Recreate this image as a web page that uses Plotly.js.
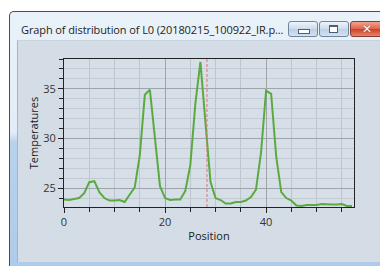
<!DOCTYPE html>
<html><head><meta charset="utf-8">
<script src="https://cdn.plot.ly/plotly-3.0.1.min.js"></script>
<style>
html,body{margin:0;padding:0;width:380px;height:266px;overflow:hidden;background:#fff;font-family:"Open Sans","DejaVu Sans",sans-serif;}
#win{position:absolute;left:9px;top:11px;width:380px;height:260px;border-left:1px solid #4a4f55;border-top:1px solid #4a4f55;border-top-left-radius:5px;
 background:linear-gradient(to bottom,#e9f1f9 0px,#e4edf7 120px,#b9d2ec 130px,#aecbe9 255px);}
#ttl{position:absolute;left:11px;top:10px;font-size:11px;color:#1e1e1e;white-space:nowrap;letter-spacing:-0.1px;}
#client{position:absolute;left:7px;top:28px;width:380px;height:221px;background:#d4dde6;border-left:1px solid #9fb6cc;border-top:1px solid #c7d3df;}
.btn{position:absolute;top:9px;height:14px;border:1px solid #6f86a0;border-radius:3px;background:linear-gradient(#eef4fb,#cddbeb 50%,#bcd0e6 51%,#d3e2f2);}
#bmin{left:278px;width:28px;}
#bmax{left:309px;width:28px;}
#bcls{left:340px;width:40px;border-color:#8a3a30;background:linear-gradient(#efa590,#e0624a 50%,#cc3f25 51%,#e5846a);}
#bmin i{position:absolute;left:9px;top:7px;width:10px;height:3px;background:#fff;border:1px solid #4c5e74;}
#bmax i{position:absolute;left:9px;top:3px;width:7px;height:5px;border:1px solid #4c5e74;border-top-width:2px;background:#fff;}
#bcls i{position:absolute;left:11px;top:0px;color:#fff;font-weight:bold;font-size:12px;line-height:14px;text-shadow:0 0 1px #6a2010;font-style:normal;}
#plot{position:absolute;left:0;top:0;width:380px;height:266px;}
</style></head>
<body>
<div id="win">
 <div id="ttl">Graph of distribution of L0 (20180215_100922_IR.p...</div>
 <div class="btn" id="bmin"><i></i></div>
 <div class="btn" id="bmax"><i></i></div>
 <div class="btn" id="bcls"><i>✕</i></div>
 <div id="client"></div>
</div>
<div id="plot"></div>
<script>
const positions = [0,1,2,3,4,5,6,7,8,9,10,11,12,13,14,15,16,17,18,19,20,21,22,23,24,25,26,27,28,29,30,31,32,33,34,35,36,37,38,39,40,41,42,43,44,45,46,47,48,49,50,51,52,53,54,55,56,57];
const temperatures = [23.86,23.8,23.9,24.0,24.5,25.6,25.7,24.6,24.0,23.75,23.75,23.8,23.6,24.3,25.07,28.3,34.4,34.9,30.0,25.2,24.0,23.8,23.85,23.85,24.7,27.3,33.5,37.7,31.6,25.6,24.0,23.8,23.45,23.45,23.6,23.6,23.75,24.1,24.85,28.6,34.8,34.5,28.2,24.6,24.0,23.75,23.25,23.2,23.3,23.3,23.3,23.4,23.35,23.35,23.35,23.4,23.2,23.2];
const cursorPosition = 28.3;
const xTitle = "Position";
const yTitle = "Temperatures";

const axisFont = {family:'"Open Sans","DejaVu Sans",sans-serif', size:11, color:'#333'};
const titleFont = {family:'"Open Sans","DejaVu Sans",sans-serif', size:11, color:'#1a1a1a', weight:500};
Plotly.newPlot('plot', [{
  x: positions, y: temperatures, type:'scatter', mode:'lines',
  line:{color:'#5aaa40', width:2}, hoverinfo:'skip'
}], {
  width:380, height:266,
  margin:{l:64, r:26, t:59, b:59, pad:0},
  paper_bgcolor:'rgba(0,0,0,0)', plot_bgcolor:'#d6dfe8',
  showlegend:false,
  xaxis:{range:[0,57.4], dtick:20, tick0:0, showgrid:true, gridcolor:'#9ea4aa', gridwidth:1,
    ticks:'outside', ticklen:5, tickcolor:'#222', showline:true, linecolor:'#222', linewidth:1, mirror:true,
    zeroline:false, tickfont:axisFont,
    minor:{dtick:5, tick0:0, showgrid:true, gridcolor:'#bcc4cc', ticks:'outside', ticklen:4, tickcolor:'#222'},
    title:{text:xTitle, font:titleFont, standoff:4}},
  yaxis:{range:[23.1,38], dtick:5, tick0:25, showgrid:true, gridcolor:'#9ea4aa', gridwidth:1,
    ticks:'outside', ticklen:5, tickcolor:'#222', showline:true, linecolor:'#222', linewidth:1, mirror:true,
    zeroline:false, tickfont:axisFont,
    minor:{dtick:1, tick0:25, showgrid:true, gridcolor:'#c3cad1', ticks:'outside', ticklen:4, tickcolor:'#222'},
    title:{text:yTitle, font:titleFont, standoff:2}},
  shapes:[{type:'line', xref:'x', yref:'paper', x0:cursorPosition, x1:cursorPosition, y0:0, y1:1,
    line:{color:'#e87070', width:1, dash:'3px,2px'}}]
}, {staticPlot:true, displayModeBar:false});
</script>
</body></html>
